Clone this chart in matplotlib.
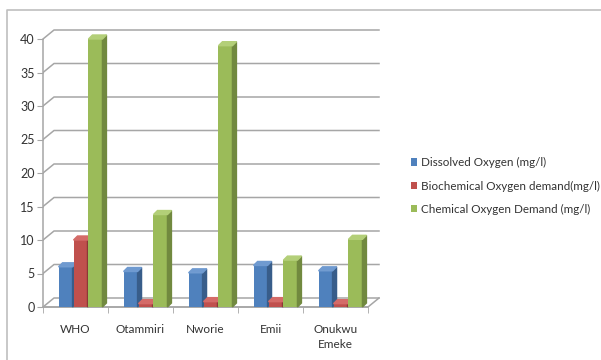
import matplotlib
matplotlib.use("Agg")
import matplotlib.pyplot as plt
from matplotlib.patches import Polygon, Patch
from matplotlib.lines import Line2D

plt.rcParams['font.family'] = ['Lato', 'DejaVu Sans']

sites = ['WHO', 'Otammiri', 'Nworie', 'Emii', 'Onukwu\nEmeke']
dissolved_o2 = [6.0, 5.3, 5.1, 6.2, 5.4]
bod = [10.0, 0.5, 0.8, 0.8, 0.5]
cod = [40.0, 13.8, 39.0, 7.0, 10.1]
series_names = ['Dissolved Oxygen (mg/l)',
                'Biochemical Oxygen demand(mg/l)',
                'Chemical Oxygen Demand (mg/l)']
y_ticks = [0, 5, 10, 15, 20, 25, 30, 35, 40]

# front / side / top shades for the fake 3d columns
shades = [('#4F81BD', '#385D8A', '#6F9AD0'),
          ('#C0504D', '#8C3836', '#D46B68'),
          ('#9BBB59', '#71893F', '#B3CF78')]

W, H = 601, 360
fig = plt.figure(figsize=(W / 100, H / 100), dpi=100)

# axes placed in pixels: 65 px per category, 6.7 px per unit
px_x, px_y = 65.0, 6.7
x_lo, x_hi = -0.5, -0.5 + (386 - 43) / px_x
y_lo, y_hi = -6 / px_y, (307 - 24) / px_y
ax = fig.add_axes([43 / W, (H - 313) / H, (386 - 43) / W, (313 - 24) / H])
ax.set_xlim(x_lo, x_hi)
ax.set_ylim(y_lo, y_hi)

# wall depth and column depth in data units
DX, DY = 11 / px_x, 9 / px_y
BX, BY = 4 / px_x, 4 / px_y
n = len(sites)
grid_kw = dict(color='#A6A6A6', lw=1.1, zorder=1)

# back wall gridlines + floor
for v in y_ticks:
    ax.plot([-0.5, -0.5 + DX, n - 0.5 + DX], [v, v + DY, v + DY], **grid_kw)
ax.plot([-0.5, n - 0.5, n - 0.5 + DX], [0, 0, DY], **grid_kw)

# columns
width = 0.215
offsets = [-0.153, 0.077, 0.307]
for k, vals in enumerate([dissolved_o2, bod, cod]):
    front, side, top = shades[k]
    for i, v in enumerate(vals):
        xl = i + offsets[k] - width / 2
        xr = xl + width
        z = 3 + i * 3 + k
        ax.bar(xl, v, width=width, align='edge', color=front, zorder=z)
        ax.add_patch(Polygon([(xr, 0), (xr + BX, BY), (xr + BX, v + BY), (xr, v)],
                             closed=True, color=side, zorder=z))
        ax.add_patch(Polygon([(xl, v), (xl + BX, v + BY), (xr + BX, v + BY), (xr, v)],
                             closed=True, color=top, zorder=z))

for s in ['top', 'right']:
    ax.spines[s].set_visible(False)
ax.spines['left'].set_bounds(0, 40)
ax.spines['bottom'].set_position(('data', 0))
ax.spines['bottom'].set_bounds(-0.5, n - 0.5)
for s in ['left', 'bottom']:
    ax.spines[s].set_color('#A6A6A6')
    ax.spines[s].set_linewidth(1.1)
    ax.spines[s].set_zorder(2)

ax.set_yticks(y_ticks)
ax.tick_params(axis='y', length=4, color='#A6A6A6', labelsize=9, labelcolor='#333333', pad=2)
ax.set_xticks(range(n))
ax.set_xticklabels(sites, fontsize=8.5, color='#333333', linespacing=1.5)
ax.set_xticks([i - 0.5 for i in range(n + 1)], minor=True)
ax.tick_params(axis='x', which='major', length=0, pad=12)
ax.tick_params(axis='x', which='minor', length=4, color='#A6A6A6')
ax.set_facecolor('none')

handles = [Patch(facecolor=shades[k][0], edgecolor='none') for k in range(3)]
fig.legend(handles, series_names, loc='center left',
           bbox_to_anchor=(405 / W, 1 - 186 / H), frameon=False,
           fontsize=8.4, labelcolor='#333333', handlelength=0.55, handleheight=0.6,
           handletextpad=0.35, labelspacing=1.05, borderpad=0)

# chart area border (only the top and left edges are in frame)
fig.add_artist(Line2D([7 / W, 7 / W, 1], [0, 1 - 10 / H, 1 - 10 / H],
                      color='#BFBFBF', lw=1.2, transform=fig.transFigure))

fig.savefig('out.png', dpi=100)
